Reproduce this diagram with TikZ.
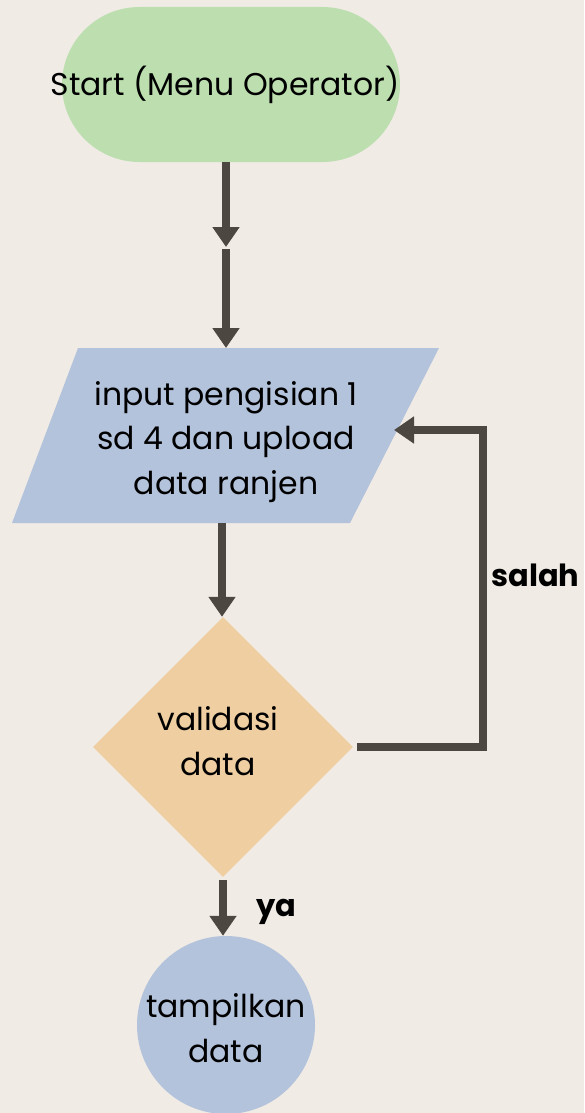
\documentclass[tikz,border=0pt]{standalone}
\usepackage{fontspec}
\setmainfont{Poppins}
\usetikzlibrary{arrows.meta,shapes.geometric}
\definecolor{bg}{HTML}{F0EBE5}
\definecolor{startgreen}{HTML}{BDDFB0}
\definecolor{bluebox}{HTML}{B4C3DC}
\definecolor{orangebox}{HTML}{EFCFA2}
\definecolor{lineclr}{HTML}{4D4742}
\tikzset{
  conn/.style={draw=lineclr, line width=8pt, -{Triangle[width=26pt,length=20pt]}},
  plainconn/.style={draw=lineclr, line width=8pt},
  txt/.style={font=\fontsize{31.5}{44.5}\selectfont, align=center, text=black},
  lbl/.style={font=\fontsize{30.5}{34}\selectfont\bfseries, text=black}
}
\begin{document}
\begin{tikzpicture}[x=1pt,y=-1pt]
\fill[bg] (0,0) rectangle (584,1113);
\useasboundingbox (0,0) rectangle (584,1113);
% start
\node[fill=startgreen, rounded corners=77.5pt, minimum width=338pt, minimum height=155pt, inner sep=0pt] (start) at (231,84.5) {};
\node[txt] (starttxt) at (225,84.5) {Start (Menu Operator)};
% parallelogram
\fill[bluebox] (78,348) -- (439,348) -- (350,523) -- (12,523) -- cycle;
\node[txt] (input) at (226,442) {input pengisian 1\\sd 4 dan upload\\data ranjen};
\coordinate (inTop) at (226,348);
\coordinate (inBot) at (222,523);
\coordinate (inRight) at (394,430);
% diamond
\node[diamond, fill=orangebox, minimum width=260pt, minimum height=260pt, inner sep=0pt, aspect=1] (valid) at (223,747) {};
\node[txt] (validtxt) at (218,741) {validasi\\data};
% circle
\node[circle, fill=bluebox, minimum size=178pt, inner sep=0pt] (show) at (226,1025) {};
\node[txt] (showtxt) at (226,1028) {tampilkan\\data};
% connectors
\coordinate (mid) at (226,247);
\coordinate (mid2) at (226,249);
\draw[conn] (start.south -| mid) -- (mid);
\draw[conn] (mid2) -- (inTop);
\draw[conn] (inBot) -- (valid.north -| inBot);
\coordinate (c1) at (487,747);
\coordinate (c2) at (487,430);
\draw[plainconn] (357,747) -- (c1);
\draw[conn, line join=miter] ([xshift=-4pt]c1) -- ([xshift=-4pt]c2 |- 0,430) -- (inRight);
\node[lbl, anchor=west] (salah) at (488,575) {salah};
\draw[conn] (223,880) -- (show.north -| 223,0);
\node[lbl, anchor=west] (ya) at (253,912) {ya};
\end{tikzpicture}
\end{document}
